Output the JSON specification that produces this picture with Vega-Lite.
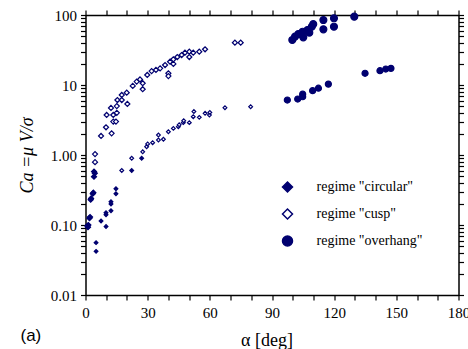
{
  "$schema": "https://vega.github.io/schema/vega-lite/v6.json",
  "width": 373,
  "height": 280,
  "autosize": "none",
  "padding": {"left": 85.5, "top": 15, "right": 9.5, "bottom": 54},
  "config": {
    "view": {"stroke": null},
    "font": "Liberation Serif",
    "axis": {
      "domainColor": "black", "domainWidth": 1.5, "tickColor": "black", "tickWidth": 1.2,
      "labelFont": "Liberation Serif", "labelFontSize": 15, "labelColor": "black",
      "titleFont": "Liberation Serif", "titleFontSize": 18, "titleFontWeight": "normal", "titleColor": "black",
      "grid": false, "labelFlush": false, "labelOverlap": false
    }
  },
  "title": {"text": "(a)", "orient": "bottom", "anchor": "start", "frame": "group", "font": "Liberation Sans", "fontSize": 17, "fontWeight": "normal", "color": "black", "offset": -21, "dx": -65},
  "data": {"values": [
    {"a": 4.1, "ca": 0.58, "r": "circular", "g": "dl"},
    {"a": 4.1, "ca": 0.49, "r": "circular", "g": "dl"},
    {"a": 4.5, "ca": 0.55, "r": "circular", "g": "dl"},
    {"a": 3.5, "ca": 0.28, "r": "circular", "g": "dl"},
    {"a": 3.8, "ca": 0.29, "r": "circular", "g": "dl"},
    {"a": 2.5, "ca": 0.23, "r": "circular", "g": "dl"},
    {"a": 2.7, "ca": 0.24, "r": "circular", "g": "dl"},
    {"a": 1.9, "ca": 0.125, "r": "circular", "g": "dl"},
    {"a": 2.2, "ca": 0.13, "r": "circular", "g": "dl"},
    {"a": 0.9, "ca": 0.097, "r": "circular", "g": "dl"},
    {"a": 1.4, "ca": 0.1, "r": "circular", "g": "dl"},
    {"a": 1.2, "ca": 0.093, "r": "circular", "g": "dl"},
    {"a": 5.1, "ca": 0.056, "r": "circular", "g": "ds"},
    {"a": 5.1, "ca": 0.042, "r": "circular", "g": "ds"},
    {"a": 7.5, "ca": 0.114, "r": "circular", "g": "ds"},
    {"a": 9.9, "ca": 0.15, "r": "circular", "g": "ds"},
    {"a": 9.9, "ca": 0.14, "r": "circular", "g": "ds"},
    {"a": 9.9, "ca": 0.095, "r": "circular", "g": "ds"},
    {"a": 12.3, "ca": 0.215, "r": "circular", "g": "ds"},
    {"a": 12.3, "ca": 0.2, "r": "circular", "g": "ds"},
    {"a": 12.3, "ca": 0.16, "r": "circular", "g": "ds"},
    {"a": 14.7, "ca": 0.33, "r": "circular", "g": "ds"},
    {"a": 14.7, "ca": 0.28, "r": "circular", "g": "ds"},
    {"a": 22.3, "ca": 0.6, "r": "circular", "g": "ds"},
    {"a": 27.1, "ca": 0.9, "r": "circular", "g": "ds"},
    {"a": 4.6, "ca": 1.03, "r": "cusp", "g": "dl"},
    {"a": 4.6, "ca": 0.79, "r": "cusp", "g": "dl"},
    {"a": 7.5, "ca": 1.87, "r": "cusp", "g": "dl"},
    {"a": 9.9, "ca": 2.49, "r": "cusp", "g": "dl"},
    {"a": 12.6, "ca": 2.04, "r": "cusp", "g": "dl"},
    {"a": 10.2, "ca": 3.73, "r": "cusp", "g": "dl"},
    {"a": 13.4, "ca": 3.73, "r": "cusp", "g": "dl"},
    {"a": 13.4, "ca": 3.0, "r": "cusp", "g": "dl"},
    {"a": 14.7, "ca": 3.0, "r": "cusp", "g": "dl"},
    {"a": 15.1, "ca": 4.0, "r": "cusp", "g": "dl"},
    {"a": 12.3, "ca": 4.7, "r": "cusp", "g": "dl"},
    {"a": 15.1, "ca": 5.0, "r": "cusp", "g": "dl"},
    {"a": 15.4, "ca": 6.1, "r": "cusp", "g": "dl"},
    {"a": 20.2, "ca": 5.36, "r": "cusp", "g": "dl"},
    {"a": 17.5, "ca": 6.1, "r": "cusp", "g": "dl"},
    {"a": 19.9, "ca": 7.76, "r": "cusp", "g": "dl"},
    {"a": 17.5, "ca": 7.2, "r": "cusp", "g": "dl"},
    {"a": 22.8, "ca": 9.7, "r": "cusp", "g": "dl"},
    {"a": 24.7, "ca": 11.2, "r": "cusp", "g": "dl"},
    {"a": 26.3, "ca": 12.0, "r": "cusp", "g": "dl"},
    {"a": 27.6, "ca": 8.7, "r": "cusp", "g": "dl"},
    {"a": 27.6, "ca": 10.6, "r": "cusp", "g": "dl"},
    {"a": 29.8, "ca": 13.9, "r": "cusp", "g": "dl"},
    {"a": 31.9, "ca": 15.8, "r": "cusp", "g": "dl"},
    {"a": 34.0, "ca": 16.4, "r": "cusp", "g": "dl"},
    {"a": 36.0, "ca": 17.3, "r": "cusp", "g": "dl"},
    {"a": 38.4, "ca": 19.3, "r": "cusp", "g": "dl"},
    {"a": 40.0, "ca": 14.7, "r": "cusp", "g": "dl"},
    {"a": 40.0, "ca": 13.4, "r": "cusp", "g": "dl"},
    {"a": 40.8, "ca": 21.5, "r": "cusp", "g": "dl"},
    {"a": 42.4, "ca": 20.0, "r": "cusp", "g": "dl"},
    {"a": 42.4, "ca": 23.3, "r": "cusp", "g": "dl"},
    {"a": 44.3, "ca": 25.1, "r": "cusp", "g": "dl"},
    {"a": 46.4, "ca": 26.8, "r": "cusp", "g": "dl"},
    {"a": 48.0, "ca": 28.9, "r": "cusp", "g": "dl"},
    {"a": 50.1, "ca": 25.1, "r": "cusp", "g": "dl"},
    {"a": 50.1, "ca": 29.9, "r": "cusp", "g": "dl"},
    {"a": 52.0, "ca": 28.9, "r": "cusp", "g": "dl"},
    {"a": 54.9, "ca": 29.9, "r": "cusp", "g": "dl"},
    {"a": 57.7, "ca": 32.4, "r": "cusp", "g": "dl"},
    {"a": 72.1, "ca": 40.2, "r": "cusp", "g": "dl"},
    {"a": 74.9, "ca": 40.2, "r": "cusp", "g": "dl"},
    {"a": 17.5, "ca": 0.6, "r": "cusp", "g": "ds"},
    {"a": 22.3, "ca": 0.9, "r": "cusp", "g": "ds"},
    {"a": 27.6, "ca": 1.11, "r": "cusp", "g": "ds"},
    {"a": 29.5, "ca": 1.31, "r": "cusp", "g": "ds"},
    {"a": 30.0, "ca": 1.44, "r": "cusp", "g": "ds"},
    {"a": 32.4, "ca": 1.5, "r": "cusp", "g": "ds"},
    {"a": 35.2, "ca": 1.93, "r": "cusp", "g": "ds"},
    {"a": 35.2, "ca": 1.64, "r": "cusp", "g": "ds"},
    {"a": 37.6, "ca": 1.68, "r": "cusp", "g": "ds"},
    {"a": 40.0, "ca": 2.15, "r": "cusp", "g": "ds"},
    {"a": 42.4, "ca": 2.4, "r": "cusp", "g": "ds"},
    {"a": 44.8, "ca": 2.54, "r": "cusp", "g": "ds"},
    {"a": 45.2, "ca": 2.7, "r": "cusp", "g": "ds"},
    {"a": 47.2, "ca": 2.9, "r": "cusp", "g": "ds"},
    {"a": 47.4, "ca": 3.09, "r": "cusp", "g": "ds"},
    {"a": 50.1, "ca": 2.9, "r": "cusp", "g": "ds"},
    {"a": 52.0, "ca": 3.53, "r": "cusp", "g": "ds"},
    {"a": 52.3, "ca": 4.17, "r": "cusp", "g": "ds"},
    {"a": 54.9, "ca": 3.45, "r": "cusp", "g": "ds"},
    {"a": 57.7, "ca": 3.94, "r": "cusp", "g": "ds"},
    {"a": 59.8, "ca": 3.73, "r": "cusp", "g": "ds"},
    {"a": 60.0, "ca": 4.06, "r": "cusp", "g": "ds"},
    {"a": 67.3, "ca": 4.74, "r": "cusp", "g": "ds"},
    {"a": 79.7, "ca": 4.9, "r": "cusp", "g": "ds"},
    {"a": 99.8, "ca": 44, "r": "overhang", "g": "cl"},
    {"a": 101.1, "ca": 49, "r": "overhang", "g": "cl"},
    {"a": 102.7, "ca": 53.5, "r": "overhang", "g": "cl"},
    {"a": 105.1, "ca": 48, "r": "overhang", "g": "cl"},
    {"a": 104.8, "ca": 57.7, "r": "overhang", "g": "cl"},
    {"a": 107.1, "ca": 61, "r": "overhang", "g": "cl"},
    {"a": 108.0, "ca": 56, "r": "overhang", "g": "cl"},
    {"a": 109.2, "ca": 68, "r": "overhang", "g": "cl"},
    {"a": 109.9, "ca": 74, "r": "overhang", "g": "cl"},
    {"a": 114.8, "ca": 84.8, "r": "overhang", "g": "cl"},
    {"a": 114.8, "ca": 62.4, "r": "overhang", "g": "cl"},
    {"a": 119.9, "ca": 89.7, "r": "overhang", "g": "cl"},
    {"a": 119.9, "ca": 68, "r": "overhang", "g": "cl"},
    {"a": 129.7, "ca": 94.6, "r": "overhang", "g": "cl"},
    {"a": 97.4, "ca": 6.1, "r": "overhang", "g": "cs"},
    {"a": 102.4, "ca": 6.3, "r": "overhang", "g": "cs"},
    {"a": 104.8, "ca": 7.4, "r": "overhang", "g": "cs"},
    {"a": 104.8, "ca": 6.8, "r": "overhang", "g": "cs"},
    {"a": 109.6, "ca": 8.3, "r": "overhang", "g": "cs"},
    {"a": 112.4, "ca": 9.0, "r": "overhang", "g": "cs"},
    {"a": 117.2, "ca": 10.3, "r": "overhang", "g": "cs"},
    {"a": 134.9, "ca": 14.7, "r": "overhang", "g": "cs"},
    {"a": 142.1, "ca": 16.0, "r": "overhang", "g": "cs"},
    {"a": 144.9, "ca": 16.9, "r": "overhang", "g": "cs"},
    {"a": 147.4, "ca": 17.3, "r": "overhang", "g": "cs"}
  ]},
  "layer": [
    {
      "mark": {"type": "point", "filled": true, "stroke": "#000070", "strokeWidth": 1.2, "opacity": 1},
      "encoding": {
        "x": {"field": "a", "type": "quantitative", "scale": {"domain": [0, 180], "nice": false},
          "axis": {"orient": "bottom", "title": "α [deg]", "values": [0,10,20,30,40,50,60,70,80,90,100,110,120,130,140,150,160,170,180],
            "labelExpr": "datum.value % 30 === 0 ? datum.label : ''", "tickSize": 5, "labelPadding": 5, "titlePadding": 11, "titleX": 181,
            "encode": {"ticks": {"update": {"y2": {"value": -5}}}}}},
        "y": {"field": "ca", "type": "quantitative", "scale": {"type": "log", "domain": [0.01, 100], "nice": false},
          "axis": {"orient": "left", "title": "Ca =μ V/σ", "titleFontStyle": "italic",
            "values": [0.01,0.02,0.03,0.04,0.05,0.06,0.07,0.08,0.09,0.1,0.2,0.3,0.4,0.5,0.6,0.7,0.8,0.9,1,2,3,4,5,6,7,8,9,10,20,30,40,50,60,70,80,90,100],
            "labelExpr": "indexof([0.01,0.1,1,10,100], datum.value) < 0 ? '' : (datum.value >= 10 ? format(datum.value, 'd') : format(datum.value, '.2f'))",
            "tickSize": 5, "labelPadding": 4, "titlePadding": 14,
            "encode": {"ticks": {"update": {"x2": {"signal": "indexof([0.01,0.1,1,10,100], datum.value) < 0 ? 5 : 9"}}}}}},
        "shape": {"field": "r", "type": "nominal", "scale": {"domain": ["circular", "cusp", "overhang"], "range": ["diamond", "diamond", "circle"]},
          "legend": {"orient": "none", "legendX": 195, "legendY": 165, "title": null, "labelFont": "Liberation Serif", "labelFontSize": 14, "labelColor": "black", "rowPadding": 11, "labelOffset": 22,
            "labelExpr": "'regime \"' + datum.label + '\"'",
            "encode": {"symbols": {"update": {"stroke": {"value": "#000070"}, "strokeWidth": {"value": 1.2}}}}}},
        "fill": {"field": "r", "type": "nominal", "scale": {"domain": ["circular", "cusp", "overhang"], "range": ["#000070", "#ffffff", "#000070"]},
          "legend": {"orient": "none", "legendX": 195, "legendY": 165, "title": null, "labelFont": "Liberation Serif", "labelFontSize": 14, "labelColor": "black", "rowPadding": 11, "labelOffset": 22,
            "labelExpr": "'regime \"' + datum.label + '\"'",
            "encode": {"symbols": {"update": {"stroke": {"value": "#000070"}, "strokeWidth": {"value": 1.2}}}}}},
        "size": {"field": "g", "type": "ordinal", "scale": {"domain": ["ds", "dl", "cs", "cl"], "range": [14, 48, 45, 95]}, "legend": null}
      }
    },
    {
      "mark": {"type": "point", "opacity": 0},
      "encoding": {
        "x": {"field": "a", "type": "quantitative",
          "axis": {"orient": "top", "title": null, "labels": false, "values": [0,10,20,30,40,50,60,70,80,90,100,110,120,130,140,150,160,170,180], "tickSize": 5,
            "encode": {"ticks": {"update": {"y2": {"value": 5}}}}}},
        "y": {"field": "ca", "type": "quantitative",
          "axis": {"orient": "right", "title": null, "labels": false,
            "values": [0.01,0.02,0.03,0.04,0.05,0.06,0.07,0.08,0.09,0.1,0.2,0.3,0.4,0.5,0.6,0.7,0.8,0.9,1,2,3,4,5,6,7,8,9,10,20,30,40,50,60,70,80,90,100], "tickSize": 5,
            "encode": {"ticks": {"update": {"x2": {"signal": "indexof([0.01,0.1,1,10,100], datum.value) < 0 ? -5 : -9"}}}}}}
      }
    }
  ]
}
